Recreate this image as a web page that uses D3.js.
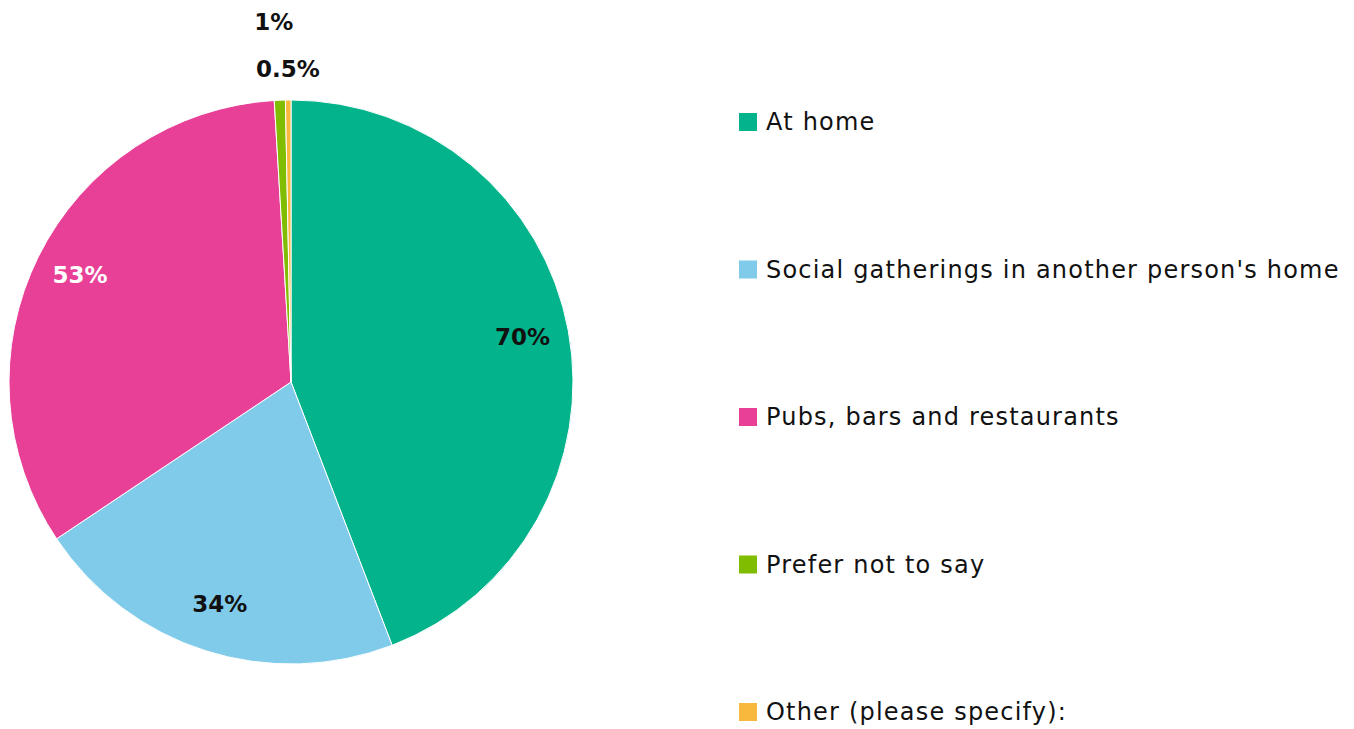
<!DOCTYPE html>
<html>
<head>
<meta charset="utf-8">
<script src="https://cdn.jsdelivr.net/npm/d3@7"></script>
<style>
  html, body { margin: 0; padding: 0; background: #fff; }
  svg { display: block; }
  text { font-family: "DejaVu Sans", "Open Sans", sans-serif; }
</style>
</head>
<body>
<svg id="chart" width="1354" height="729"></svg>
<script>
// Where people drink: share of respondents per answer
const categories = [
  "At home",
  "Social gatherings in another person's home",
  "Pubs, bars and restaurants",
  "Prefer not to say",
  "Other (please specify):"
];
const values = [70, 34, 53, 1, 0.5];
const valueLabels = ["70%", "34%", "53%", "1%", "0.5%"];
const colors = ["#02b38b", "#80cbea", "#e84097", "#80bc00", "#f8b73d"];
const labelColors = ["#111", "#111", "#fff", "#111", "#111"];

const svg = d3.select("#chart");
const cx = 291, cy = 382, radius = 282;

const data = categories.map((c, i) => ({ name: c, value: values[i], label: valueLabels[i], color: colors[i], labelColor: labelColors[i] }));

const pie = d3.pie().sort(null).value(d => d.value);
const arcs = pie(data);
const arc = d3.arc().innerRadius(0).outerRadius(radius);
const labelArc = d3.arc().innerRadius(radius * 0.835).outerRadius(radius * 0.835);

const g = svg.append("g").attr("transform", `translate(${cx},${cy})`);

g.selectAll("path.slice")
  .data(arcs)
  .join("path")
  .attr("class", "slice")
  .attr("d", arc)
  .attr("fill", d => d.data.color)
  .attr("stroke", "#fff")
  .attr("stroke-width", 1);

// Large slices: labels inside; thin slices: stacked labels above the pie
arcs.forEach(a => {
  const span = a.endAngle - a.startAngle;
  let x, y;
  if (span > 0.2) {
    [x, y] = labelArc.centroid(a);
    y -= 2;
  } else {
    const r = radius + 31 + 47 * (a.data.value >= 1 ? 1 : 0);
    const mid = (a.startAngle + a.endAngle) / 2;
    x = r * Math.sin(mid) - (a.data.value >= 1 ? 3 : 0);
    y = -r * Math.cos(mid);
  }
  g.append("text")
    .attr("x", x)
    .attr("y", y)
    .attr("text-anchor", "middle")
    .attr("dominant-baseline", "central")
    .attr("font-size", 23)
    .attr("font-weight", 700)
    .attr("fill", a.data.labelColor)
    .text(a.data.label);
});

// Legend
const legendY = d3.scalePoint().domain(categories).range([122, 712]);
const legend = svg.append("g").attr("transform", "translate(739,0)");
const items = legend.selectAll("g.item")
  .data(data)
  .join("g")
  .attr("class", "item")
  .attr("transform", d => `translate(0,${legendY(d.name)})`);
items.append("rect")
  .attr("x", 0).attr("y", -9)
  .attr("width", 18).attr("height", 18)
  .attr("fill", d => d.color);
items.append("text")
  .attr("x", 27)
  .attr("y", 0)
  .attr("dominant-baseline", "central")
  .attr("font-size", 24)
  .attr("letter-spacing", 1.2)
  .attr("fill", "#111")
  .text(d => d.name);
</script>
</body>
</html>
